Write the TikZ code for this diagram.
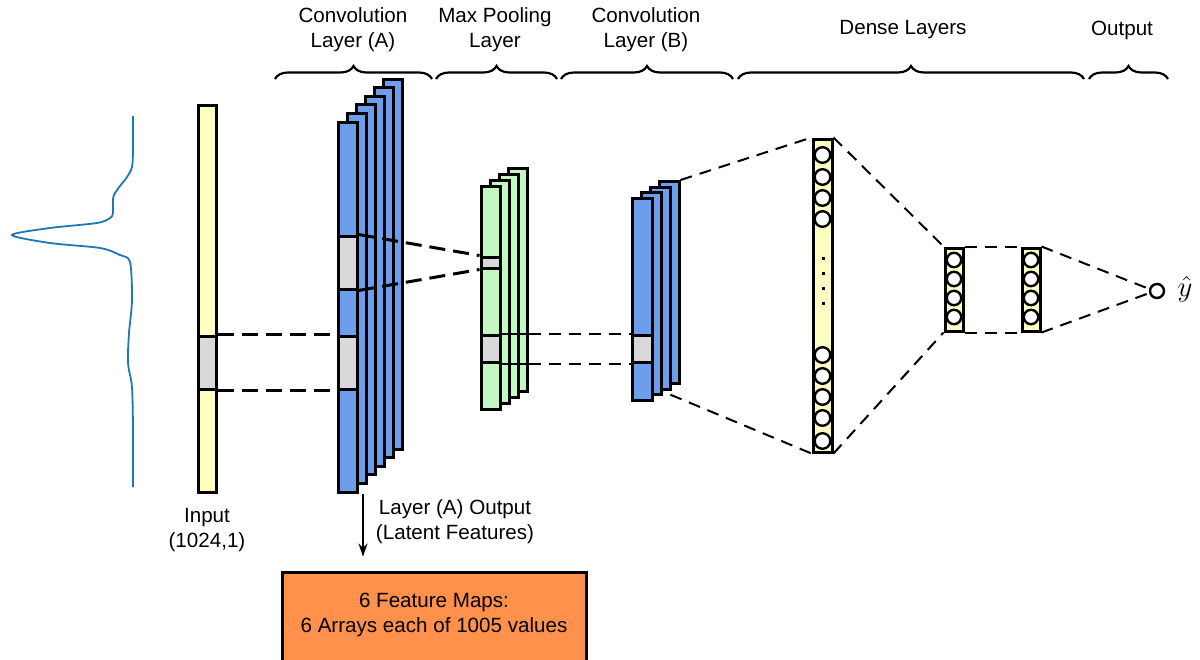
\documentclass[tikz,border=0pt]{standalone}
\usepackage{fontspec}
\setmainfont{Liberation Sans}
\usetikzlibrary{decorations.pathreplacing,arrows.meta}
\definecolor{inyellow}{HTML}{FFFFC2}
\definecolor{convblue}{HTML}{6D9EEB}
\definecolor{poolgreen}{HTML}{C2F8C2}
\definecolor{segray}{HTML}{D9D9D9}
\definecolor{boxorange}{HTML}{FF914D}
\definecolor{specblue}{HTML}{1F77B4}
\begin{document}
\begin{tikzpicture}[x=0.5pt,y=-0.5pt,
    bar/.style={draw, line width=1.5pt, inner sep=0pt, minimum width=9.5pt},
    seg/.style={bar, fill=segray},
    neuron/.style={circle, draw, fill=white, line width=1.2pt, inner sep=0pt, minimum size=7.8pt},
    link/.style={line width=1.5pt, dash pattern=on 8pt off 4pt},
    thinlink/.style={line width=1pt, dash pattern=on 6pt off 4pt},
    lbl/.style={align=center, font=\fontsize{10.3}{12.5}\selectfont},
    grp/.style={decorate, decoration={brace, amplitude=6.5pt}, line width=1.1pt}]
  \useasboundingbox (0,0) rectangle (1200,659);

  % spectrum
  \draw[specblue, line width=0.9pt] plot[smooth, tension=0.5] coordinates {
    (133,116) (133,150) (132,167) (127,177) (120,186) (115,193) (113,199)
    (113,213) (110,218) (97,223) (50,228) (12,235) (50,243) (100,248)
    (120,255) (130,262) (132,300) (129,333) (128,363) (132,387) (133,430) (133,487)};

  % input
  \node[bar, fill=inyellow, minimum width=9pt, minimum height=193.5pt] (in) at (207,298.5) {};
  \node[seg, minimum width=9pt, minimum height=26.5pt] (inseg) at (207,362.5) {};
  \node[lbl] (inlbl) at (207,530.5) {Input\\(1024,1)};

  % convolution layer A
  \foreach \i in {5,...,0}
    \node[bar, fill=convblue, minimum height=185pt] (ca\i) at ({347.5+9*\i},{307-8.6*\i}) {};
  \node[seg, minimum height=26.5pt] (caup) at (347.5,262.5) {};
  \node[seg, minimum height=26.5pt] (calo) at (347.5,362.5) {};
  \draw[link] (inseg.north east) -- (calo.north west);
  \draw[link] (inseg.south east) -- (calo.south west);

  % max pooling
  \foreach \i in {3,...,0}
    \node[bar, fill=poolgreen, minimum height=111.5pt] (pl\i) at ({490.5+9*\i},{297.5-6*\i}) {};
  \node[seg, minimum height=5.5pt] (plup) at (490.5,262.5) {};
  \node[seg, minimum height=13.5pt] (pllo) at (490.5,348.5) {};
  \draw[link] (caup.north east) -- (plup.north west);
  \draw[link] (caup.south east) -- (plup.south west);
  \coordinate (pa) at (pllo.north east -| pl3.east);
  \coordinate (pb) at (pllo.south east -| pl3.east);
  \draw[line width=1pt] (pllo.north east) -- (pa);
  \draw[line width=1pt] (pllo.south east) -- (pb);

  % dense layers
  \node[bar, fill=inyellow, minimum height=156.5pt] (d1) at (822.5,295.5) {};
  \foreach \y [count=\k] in {155,177,198,219,355,376,397,418,441}
    \node[neuron] (d1n\k) at (822.5,\y) {};
  \foreach \y in {258,273,288,303}
    \fill (821.5,{\y-1.5}) rectangle ++(3,3);
  \node[bar, fill=inyellow, minimum width=9pt, minimum height=41.5pt] (d2) at (954,289.5) {};
  \node[bar, fill=inyellow, minimum width=9pt, minimum height=41.5pt] (d3) at (1031,289.5) {};
  \foreach \y [count=\k] in {260,279,298,317} {
    \node[neuron, minimum size=7.2pt] (d2n\k) at (954,\y) {};
    \node[neuron, minimum size=7.2pt] (d3n\k) at (1031,\y) {};
  }
  \node[neuron, minimum size=7pt] (yout) at (1157,291) {};
  \node (yhat) at (1185,289) {\fontsize{15}{17}\selectfont$\hat{y}$};

  % convolution layer B
  \coordinate (cbfoot) at (652,387);
  \draw[thinlink] (cbfoot) -- (d1.south west);
  \foreach \i in {3,...,0}
    \node[bar, fill=convblue, minimum width=10pt, minimum height=101pt] (cb\i) at ({642+9*\i},{299-5.5*\i}) {};
  \node[seg, minimum width=10pt, minimum height=13.5pt] (cblo) at (642,348.5) {};
  \draw[thinlink] (pa) -- (cblo.north west);
  \draw[thinlink] (pb) -- (cblo.south west);
  \draw[thinlink] (cb3.north east) -- (d1.north west);

  \draw[thinlink] (d1.north east) -- (d2.north west);
  \draw[thinlink] (d1.south east) -- (d2.south west);
  \draw[thinlink] (d2.north east) -- (d3.north west);
  \draw[thinlink] (d2.south east) -- (d3.south west);
  \draw[thinlink] (d3.north east) -- (yout.165);
  \draw[thinlink] (d3.south east) -- (yout.195);

  % layer A output
  \node[draw, fill=boxorange, line width=1.5pt, minimum width=152pt, minimum height=50pt] (fm) at (434,622) {};
  \node[lbl] (fmtxt) at (434,615) {6 Feature Maps:\\6 Arrays each of 1005 values};
  \coordinate (atop) at (363,494);
  \draw[line width=0.8pt, -{Stealth[length=6.5pt, width=4.5pt]}, shorten >=7pt] (atop) -- (atop |- fm.north);
  \node[lbl] (outlbl) at (455,521.5) {Layer (A) Output\\(Latent Features)};

  % headers
  \node[lbl] (hA) at (353,29.5) {Convolution\\Layer (A)};
  \node[lbl] (hP) at (495,29.5) {Max Pooling\\Layer};
  \node[lbl] (hB) at (646,29.5) {Convolution\\Layer (B)};
  \node[lbl] (hD) at (903,30) {Dense Layers};
  \node[lbl] (hO) at (1122,30) {Output};
  \draw[grp] (275,79) -- (432,79);
  \draw[grp] (436,79) -- (557,79);
  \draw[grp] (561,79) -- (733,79);
  \draw[grp] (738,79) -- (1084,79);
  \draw[grp] (1089,79) -- (1168,79);
\end{tikzpicture}
\end{document}
